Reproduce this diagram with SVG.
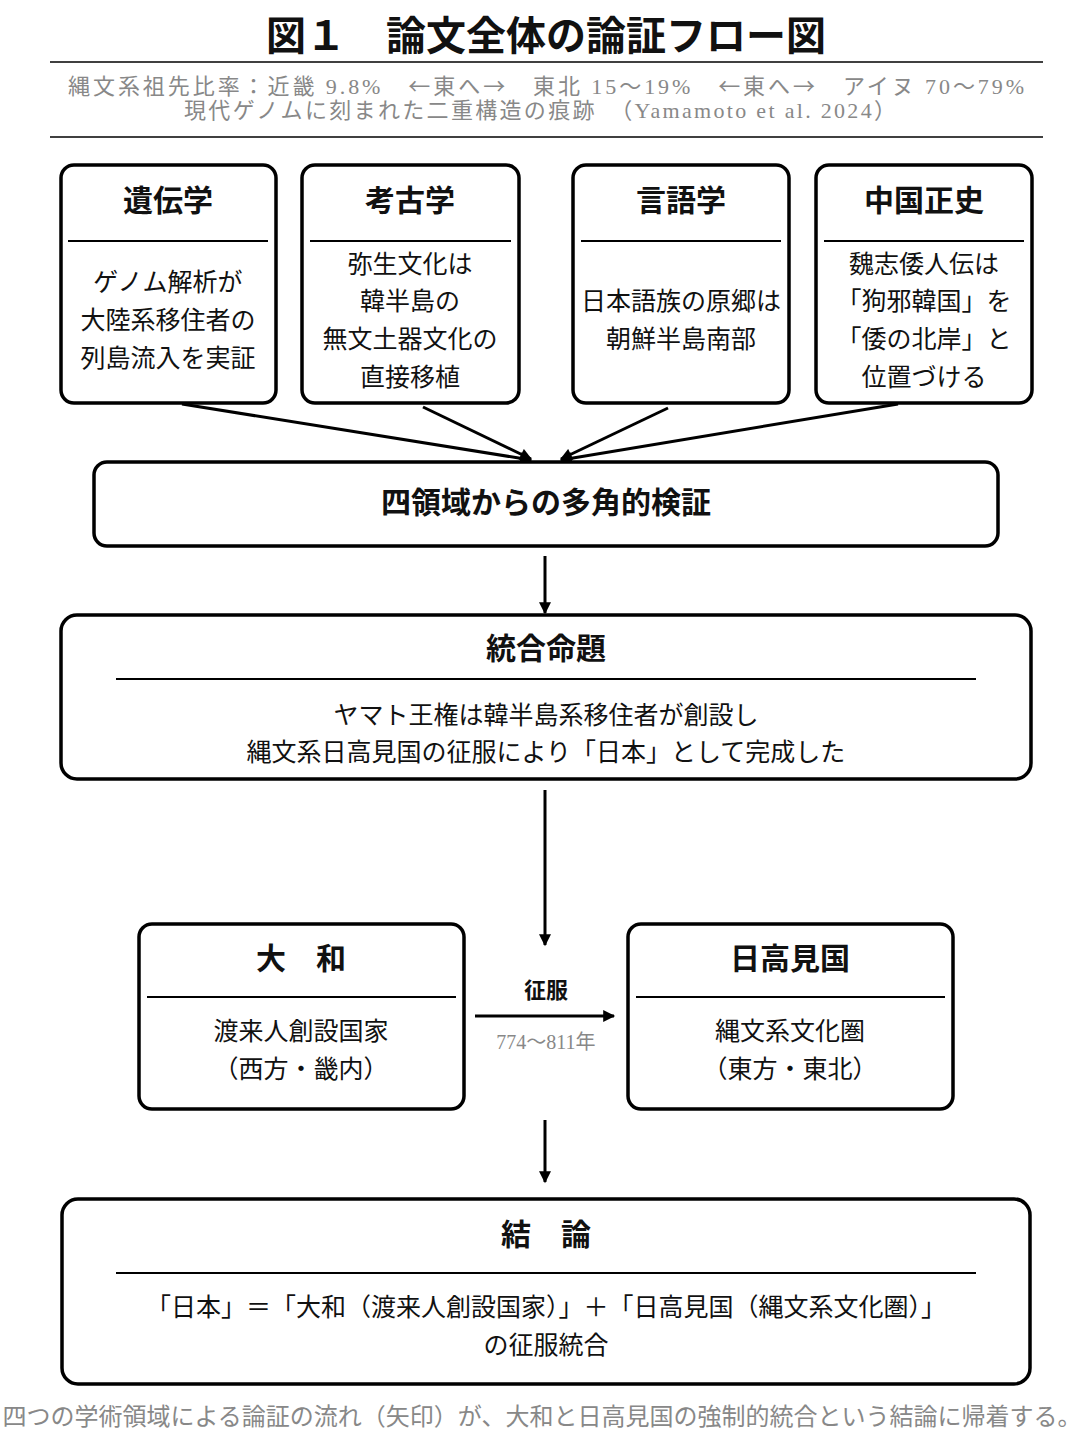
<svg xmlns="http://www.w3.org/2000/svg" width="1086" height="1442" viewBox="0 0 1086 1442">
<defs>
<style>
text{font-family:"Liberation Serif","Noto Sans CJK JP",serif;text-anchor:middle;fill:#111}
.title{font-size:40px;font-weight:bold}
.gray{font-size:24px;fill:#888}
.sub{font-size:22px;fill:#888}
.cjk{font-family:"Noto Sans CJK JP",sans-serif}
.hd{font-size:30px;font-weight:bold}
.bd{font-size:25px}
.box{fill:#fff;stroke:#000;stroke-width:3.5}
.div{stroke:#000;stroke-width:2}
.rule{stroke:#000;stroke-width:1.5}
.con{stroke:#000;stroke-width:3;fill:none}
</style>
<marker id="ah" viewBox="0 0 10 10" refX="9" refY="5" markerWidth="14" markerHeight="12" markerUnits="userSpaceOnUse" orient="auto">
<path d="M0,0 L10,5 L0,10 z" fill="#000"/>
</marker>
</defs>
<rect width="1086" height="1442" fill="#fff"/>
<g id="header">
<text class="title" x="546" y="50">図１　論文全体の論証フロー図</text>
<line class="rule" x1="50" y1="62" x2="1043" y2="62"/>
<text class="sub" x="546" y="94" textLength="956" lengthAdjust="spacing">縄文系祖先比率：近畿 9.8%　<tspan class="cjk">←</tspan>東へ<tspan class="cjk">→</tspan>　東北 15～19%　<tspan class="cjk">←</tspan>東へ<tspan class="cjk">→</tspan>　アイヌ 70～79%</text>
<text class="sub" x="540" y="118" textLength="712" lengthAdjust="spacing">現代ゲノムに刻まれた二重構造の痕跡　（Yamamoto et al. 2024）</text>
<line class="rule" x1="50" y1="137" x2="1043" y2="137"/>
</g>
<g id="connectors">
<line class="con" x1="182" y1="404" x2="531" y2="460" marker-end="url(#ah)"/>
<line class="con" x1="423" y1="407" x2="531" y2="459" marker-end="url(#ah)"/>
<line class="con" x1="668" y1="408" x2="561" y2="459" marker-end="url(#ah)"/>
<line class="con" x1="898" y1="404" x2="561" y2="460" marker-end="url(#ah)"/>
<line class="con" x1="545" y1="556" x2="545" y2="613" marker-end="url(#ah)"/>
<line class="con" x1="545" y1="790" x2="545" y2="945" marker-end="url(#ah)"/>
<line class="con" x1="475" y1="1016" x2="614" y2="1016" marker-end="url(#ah)"/>
<line class="con" x1="545" y1="1120" x2="545" y2="1182" marker-end="url(#ah)"/>
</g>
<g id="genetics">
<rect class="box" x="61" y="165" width="215" height="238" rx="13"/>
<text class="hd" x="168" y="211">遺伝学</text>
<line class="div" x1="68" y1="241" x2="268" y2="241"/>
<text class="bd" x="168" y="291">ゲノム解析が</text>
<text class="bd" x="168" y="329">大陸系移住者の</text>
<text class="bd" x="168" y="367">列島流入を実証</text>
</g>
<g id="archaeology">
<rect class="box" x="302" y="165" width="217" height="238" rx="13"/>
<text class="hd" x="410" y="211">考古学</text>
<line class="div" x1="310" y1="241" x2="511" y2="241"/>
<text class="bd" x="410" y="273">弥生文化は</text>
<text class="bd" x="410" y="310">韓半島の</text>
<text class="bd" x="410" y="348">無文土器文化の</text>
<text class="bd" x="410" y="386">直接移植</text>
</g>
<g id="linguistics">
<rect class="box" x="573" y="165" width="216" height="238" rx="13"/>
<text class="hd" x="681" y="211">言語学</text>
<line class="div" x1="581" y1="241" x2="781" y2="241"/>
<text class="bd" x="681" y="310">日本語族の原郷は</text>
<text class="bd" x="681" y="348">朝鮮半島南部</text>
</g>
<g id="history">
<rect class="box" x="816" y="165" width="216" height="238" rx="13"/>
<text class="hd" x="924" y="211">中国正史</text>
<line class="div" x1="824" y1="241" x2="1024" y2="241"/>
<text class="bd" x="924" y="273">魏志倭人伝は</text>
<text class="bd" x="924" y="310">「狗邪韓国」を</text>
<text class="bd" x="924" y="348">「倭の北岸」と</text>
<text class="bd" x="924" y="386">位置づける</text>
</g>
<g id="verification">
<rect class="box" x="94" y="462" width="904" height="84" rx="13"/>
<text class="hd" x="546" y="513">四領域からの多角的検証</text>
</g>
<g id="proposition">
<rect class="box" x="61" y="615" width="970" height="164" rx="16"/>
<text class="hd" x="546" y="659">統合命題</text>
<line class="div" x1="116" y1="679" x2="976" y2="679"/>
<text class="bd" x="546" y="724">ヤマト王権は韓半島系移住者が創設し</text>
<text class="bd" x="546" y="761">縄文系日高見国の征服により「日本」として完成した</text>
</g>
<g id="yamato">
<rect class="box" x="139" y="924" width="325" height="185" rx="13"/>
<text class="hd" x="301" y="969">大　和</text>
<line class="div" x1="147" y1="997" x2="456" y2="997"/>
<text class="bd" x="301" y="1040">渡来人創設国家</text>
<text class="bd" x="301" y="1078">（西方・畿内）</text>
</g>
<g id="conquest-label">
<text x="546" y="998" style="font-size:22px;font-weight:bold">征服</text>
<text x="546" y="1049" style="font-size:20px;fill:#888">774～811年</text>
</g>
<g id="hitakami">
<rect class="box" x="628" y="924" width="325" height="185" rx="13"/>
<text class="hd" x="790" y="969">日高見国</text>
<line class="div" x1="636" y1="997" x2="945" y2="997"/>
<text class="bd" x="790" y="1040">縄文系文化圏</text>
<text class="bd" x="790" y="1078">（東方・東北）</text>
</g>
<g id="conclusion">
<rect class="box" x="62" y="1199" width="968" height="185" rx="16"/>
<text class="hd" x="546" y="1245">結　論</text>
<line class="div" x1="116" y1="1273" x2="976" y2="1273"/>
<text class="bd" x="546" y="1316">「日本」＝「大和（渡来人創設国家）」＋「日高見国（縄文系文化圏）」</text>
<text class="bd" x="546" y="1354">の征服統合</text>
</g>
<g id="caption">
<text class="gray" x="542" y="1425">四つの学術領域による論証の流れ（矢印）が、大和と日高見国の強制的統合という結論に帰着する。</text>
</g>
</svg>
